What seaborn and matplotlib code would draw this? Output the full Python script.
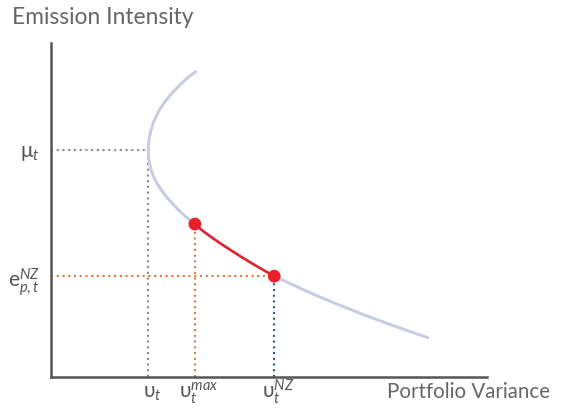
import matplotlib
matplotlib.use("Agg")
import matplotlib.pyplot as plt
import matplotlib.transforms as mtransforms
import pandas as pd
import seaborn as sns

sns.set_style("white")
plt.rcParams['font.family'] = ['Lato', 'DejaVu Sans']
plt.rcParams['mathtext.fontset'] = 'custom'
plt.rcParams['mathtext.rm'] = 'Lato'
plt.rcParams['mathtext.it'] = 'Lato:italic'
plt.rcParams['mathtext.fallback'] = 'stixsans'

# frontier (variance, emission intensity), top to bottom
frontier_var = [33.2, 31.7, 30.0, 28.5, 27.1, 25.9, 24.9, 24.1, 23.45, 22.95, 22.6,
                22.37, 22.3, 22.37, 22.6, 22.95, 23.5, 24.3, 25.3, 26.45, 27.8,
                29.27, 30.9, 33.0, 34.57, 36.63, 38.84, 41.2, 43.6, 46.1, 48.74,
                51.2, 54.8, 58.1, 61.6, 65.3, 69.1, 73.05, 77.2, 81.5, 86.4]
frontier_em = [91.4, 90.0, 88.0, 86.0, 84.0, 82.0, 80.0, 78.0, 76.0, 74.0, 72.0,
               70.0, 68.0, 66.0, 64.0, 62.0, 60.0, 58.0, 56.0, 54.0, 52.0,
               50.0, 48.0, 45.8, 44.0, 42.0, 40.0, 38.0, 36.0, 34.0, 32.0,
               30.2, 28.0, 26.0, 24.0, 22.0, 20.0, 18.0, 16.0, 14.0, 11.8]

# key points
v_t, mu_t = 22.3, 68.0
v_max, e_max = 33.0, 45.8
v_nz, e_nz = 51.2, 30.2

xtick_labels = [r'$\mathrm{\upsilon}_t$', r'$\mathrm{\upsilon}_t^{max}$', r'$\mathrm{\upsilon}_t^{NZ}$']
ytick_labels = [r'$\mathrm{\mu}_t$', r'$\mathrm{e}_{p,t}^{NZ}$']

df = pd.DataFrame({'var': frontier_var, 'em': frontier_em})
seg = df[(df['em'] <= e_max) & (df['em'] >= e_nz)]
pts = pd.DataFrame({'var': [v_max, v_nz], 'em': [e_max, e_nz]})

fig = plt.figure(figsize=(5.66, 4.08), dpi=100)
ax = fig.add_axes([51 / 566, 31 / 408, 436 / 566, 334 / 408])

grey, orange, blue, red = '#8a8a8a', '#e07a3a', '#1f5a96', '#e8202a'
dots = (0, (1, 1.75))

ax.plot([0, v_t], [mu_t, mu_t], color=grey, lw=1.5, ls=dots)
ax.plot([v_t, v_t], [0, mu_t], color=grey, lw=1.5, ls=dots)
ax.plot([v_max, v_max], [0, e_max], color=orange, lw=1.5, ls=dots)
ax.plot([0, v_nz], [e_nz, e_nz], color=orange, lw=1.5, ls=dots)
ax.plot([v_nz, v_nz], [0, e_nz], color=blue, lw=1.5, ls=dots)

sns.lineplot(data=df, x='var', y='em', sort=False, estimator=None,
             color='#c9cde4', lw=2.2, ax=ax)
sns.lineplot(data=seg, x='var', y='em', sort=False, estimator=None,
             color=red, lw=1.8, ax=ax)
sns.scatterplot(data=pts, x='var', y='em', color=red, s=85, edgecolor='none',
                ax=ax, zorder=5)

ax.set_xlim(0, 100)
ax.set_ylim(0, 100)
ax.set_xticks([v_t, v_max, v_nz])
ax.set_xticklabels([])
ax.set_yticks([mu_t, e_nz])
ax.set_yticklabels(ytick_labels)
ax.tick_params(length=0, labelsize=15, labelcolor='#555555')
ax.tick_params(axis='y', pad=8)
ax.set_xlabel('')
ax.set_ylabel('')

# x tick labels on a common baseline
trans = mtransforms.blended_transform_factory(ax.transData, fig.transFigure)
shift = mtransforms.ScaledTranslation(4 / 100, 0, fig.dpi_scale_trans)
for xv, lab in zip([v_t, v_max, v_nz], xtick_labels):
    ax.text(xv, 1 - 398 / 408, lab, transform=trans + shift, ha='center',
            va='baseline', fontsize=15, color='#555555')

for side in ['top', 'right']:
    ax.spines[side].set_visible(False)
for side in ['left', 'bottom']:
    ax.spines[side].set_color('#555555')
    ax.spines[side].set_linewidth(1.8)

fig.text(12 / 566, 1 - 18 / 408, 'Emission Intensity', fontsize=16.4,
         color='#666666', va='center', ha='left')
fig.text(387 / 566, 1 - 392 / 408, 'Portfolio Variance', fontsize=14.8,
         color='#666666', va='center', ha='left')

fig.savefig('out.png', dpi=100)
